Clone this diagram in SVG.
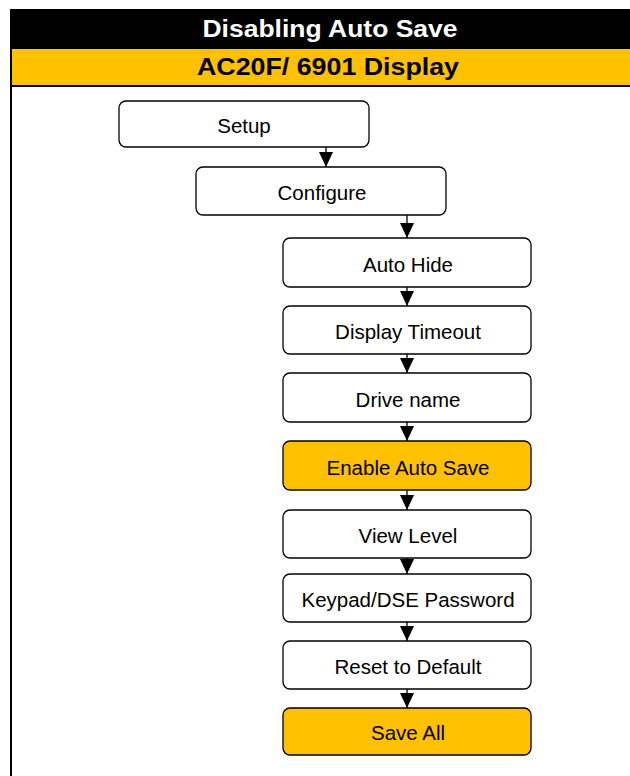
<svg xmlns="http://www.w3.org/2000/svg" width="630" height="776" viewBox="0 0 630 776">
<defs>
<style>
.box{fill:#ffffff;stroke:#000;stroke-width:1.3}
.hl{fill:#FFC000;stroke:#000;stroke-width:1.3}
.lbl{font-family:"Liberation Sans",Arial,sans-serif;font-size:20.5px;fill:#000;text-anchor:middle}
.ttl{font-family:"Liberation Sans",Arial,sans-serif;font-weight:bold;font-size:24px;text-anchor:middle}
.conn{stroke:#000;stroke-width:1.3;fill:none;marker-end:url(#ah)}
</style>
<marker id="ah" markerUnits="userSpaceOnUse" markerWidth="15" markerHeight="14" viewBox="0 0 15 14" refX="15" refY="7" orient="auto">
<path d="M0,0 L15,7 L0,14 Z" fill="#000"/>
</marker>
</defs>
<rect x="0" y="0" width="630" height="776" fill="#fff"/>
<g id="header">
<rect x="10" y="9" width="620" height="40" fill="#000"/>
<rect x="12" y="49" width="618" height="36" fill="#FFC000"/>
<rect x="10" y="85" width="620" height="2" fill="#000"/>
<rect x="10" y="9" width="2" height="767" fill="#000"/>
<text class="ttl" x="330" y="37" fill="#fff" textLength="255" lengthAdjust="spacingAndGlyphs">Disabling Auto Save</text>
<text class="ttl" x="328" y="75" fill="#000" textLength="262" lengthAdjust="spacingAndGlyphs">AC20F/ 6901 Display</text>
</g>
<g id="connectors">
<line class="conn" x1="326" y1="147" x2="326" y2="167"/>
<line class="conn" x1="407" y1="215" x2="407" y2="238"/>
<line class="conn" x1="407" y1="287" x2="407" y2="306"/>
<line class="conn" x1="407" y1="354" x2="407" y2="373"/>
<line class="conn" x1="407" y1="422" x2="407" y2="441"/>
<line class="conn" x1="407" y1="490" x2="407" y2="510"/>
<line class="conn" x1="407" y1="558" x2="407" y2="574"/>
<line class="conn" x1="407" y1="622" x2="407" y2="641"/>
<line class="conn" x1="407" y1="689" x2="407" y2="708"/>
</g>
<g id="setup"><rect class="box" x="119" y="101" width="250" height="46" rx="7"/><text class="lbl" x="244" y="133">Setup</text></g>
<g id="configure"><rect class="box" x="196" y="167" width="250" height="48" rx="7"/><text class="lbl" x="322" y="200">Configure</text></g>
<g id="auto-hide"><rect class="box" x="283" y="238" width="248" height="49" rx="7"/><text class="lbl" x="408" y="272">Auto Hide</text></g>
<g id="display-timeout"><rect class="box" x="283" y="306" width="248" height="48" rx="7"/><text class="lbl" x="408" y="339">Display Timeout</text></g>
<g id="drive-name"><rect class="box" x="283" y="373" width="248" height="49" rx="7"/><text class="lbl" x="408" y="407">Drive name</text></g>
<g id="enable-auto-save"><rect class="hl" x="283" y="441" width="248" height="49" rx="7"/><text class="lbl" x="408" y="475">Enable Auto Save</text></g>
<g id="view-level"><rect class="box" x="283" y="510" width="248" height="48" rx="7"/><text class="lbl" x="408" y="543">View Level</text></g>
<g id="keypad-password"><rect class="box" x="283" y="574" width="248" height="48" rx="7"/><text class="lbl" x="408" y="607">Keypad/DSE Password</text></g>
<g id="reset-default"><rect class="box" x="283" y="641" width="248" height="48" rx="7"/><text class="lbl" x="408" y="674">Reset to Default</text></g>
<g id="save-all"><rect class="hl" x="283" y="708" width="248" height="47" rx="7"/><text class="lbl" x="408" y="740">Save All</text></g>
</svg>
